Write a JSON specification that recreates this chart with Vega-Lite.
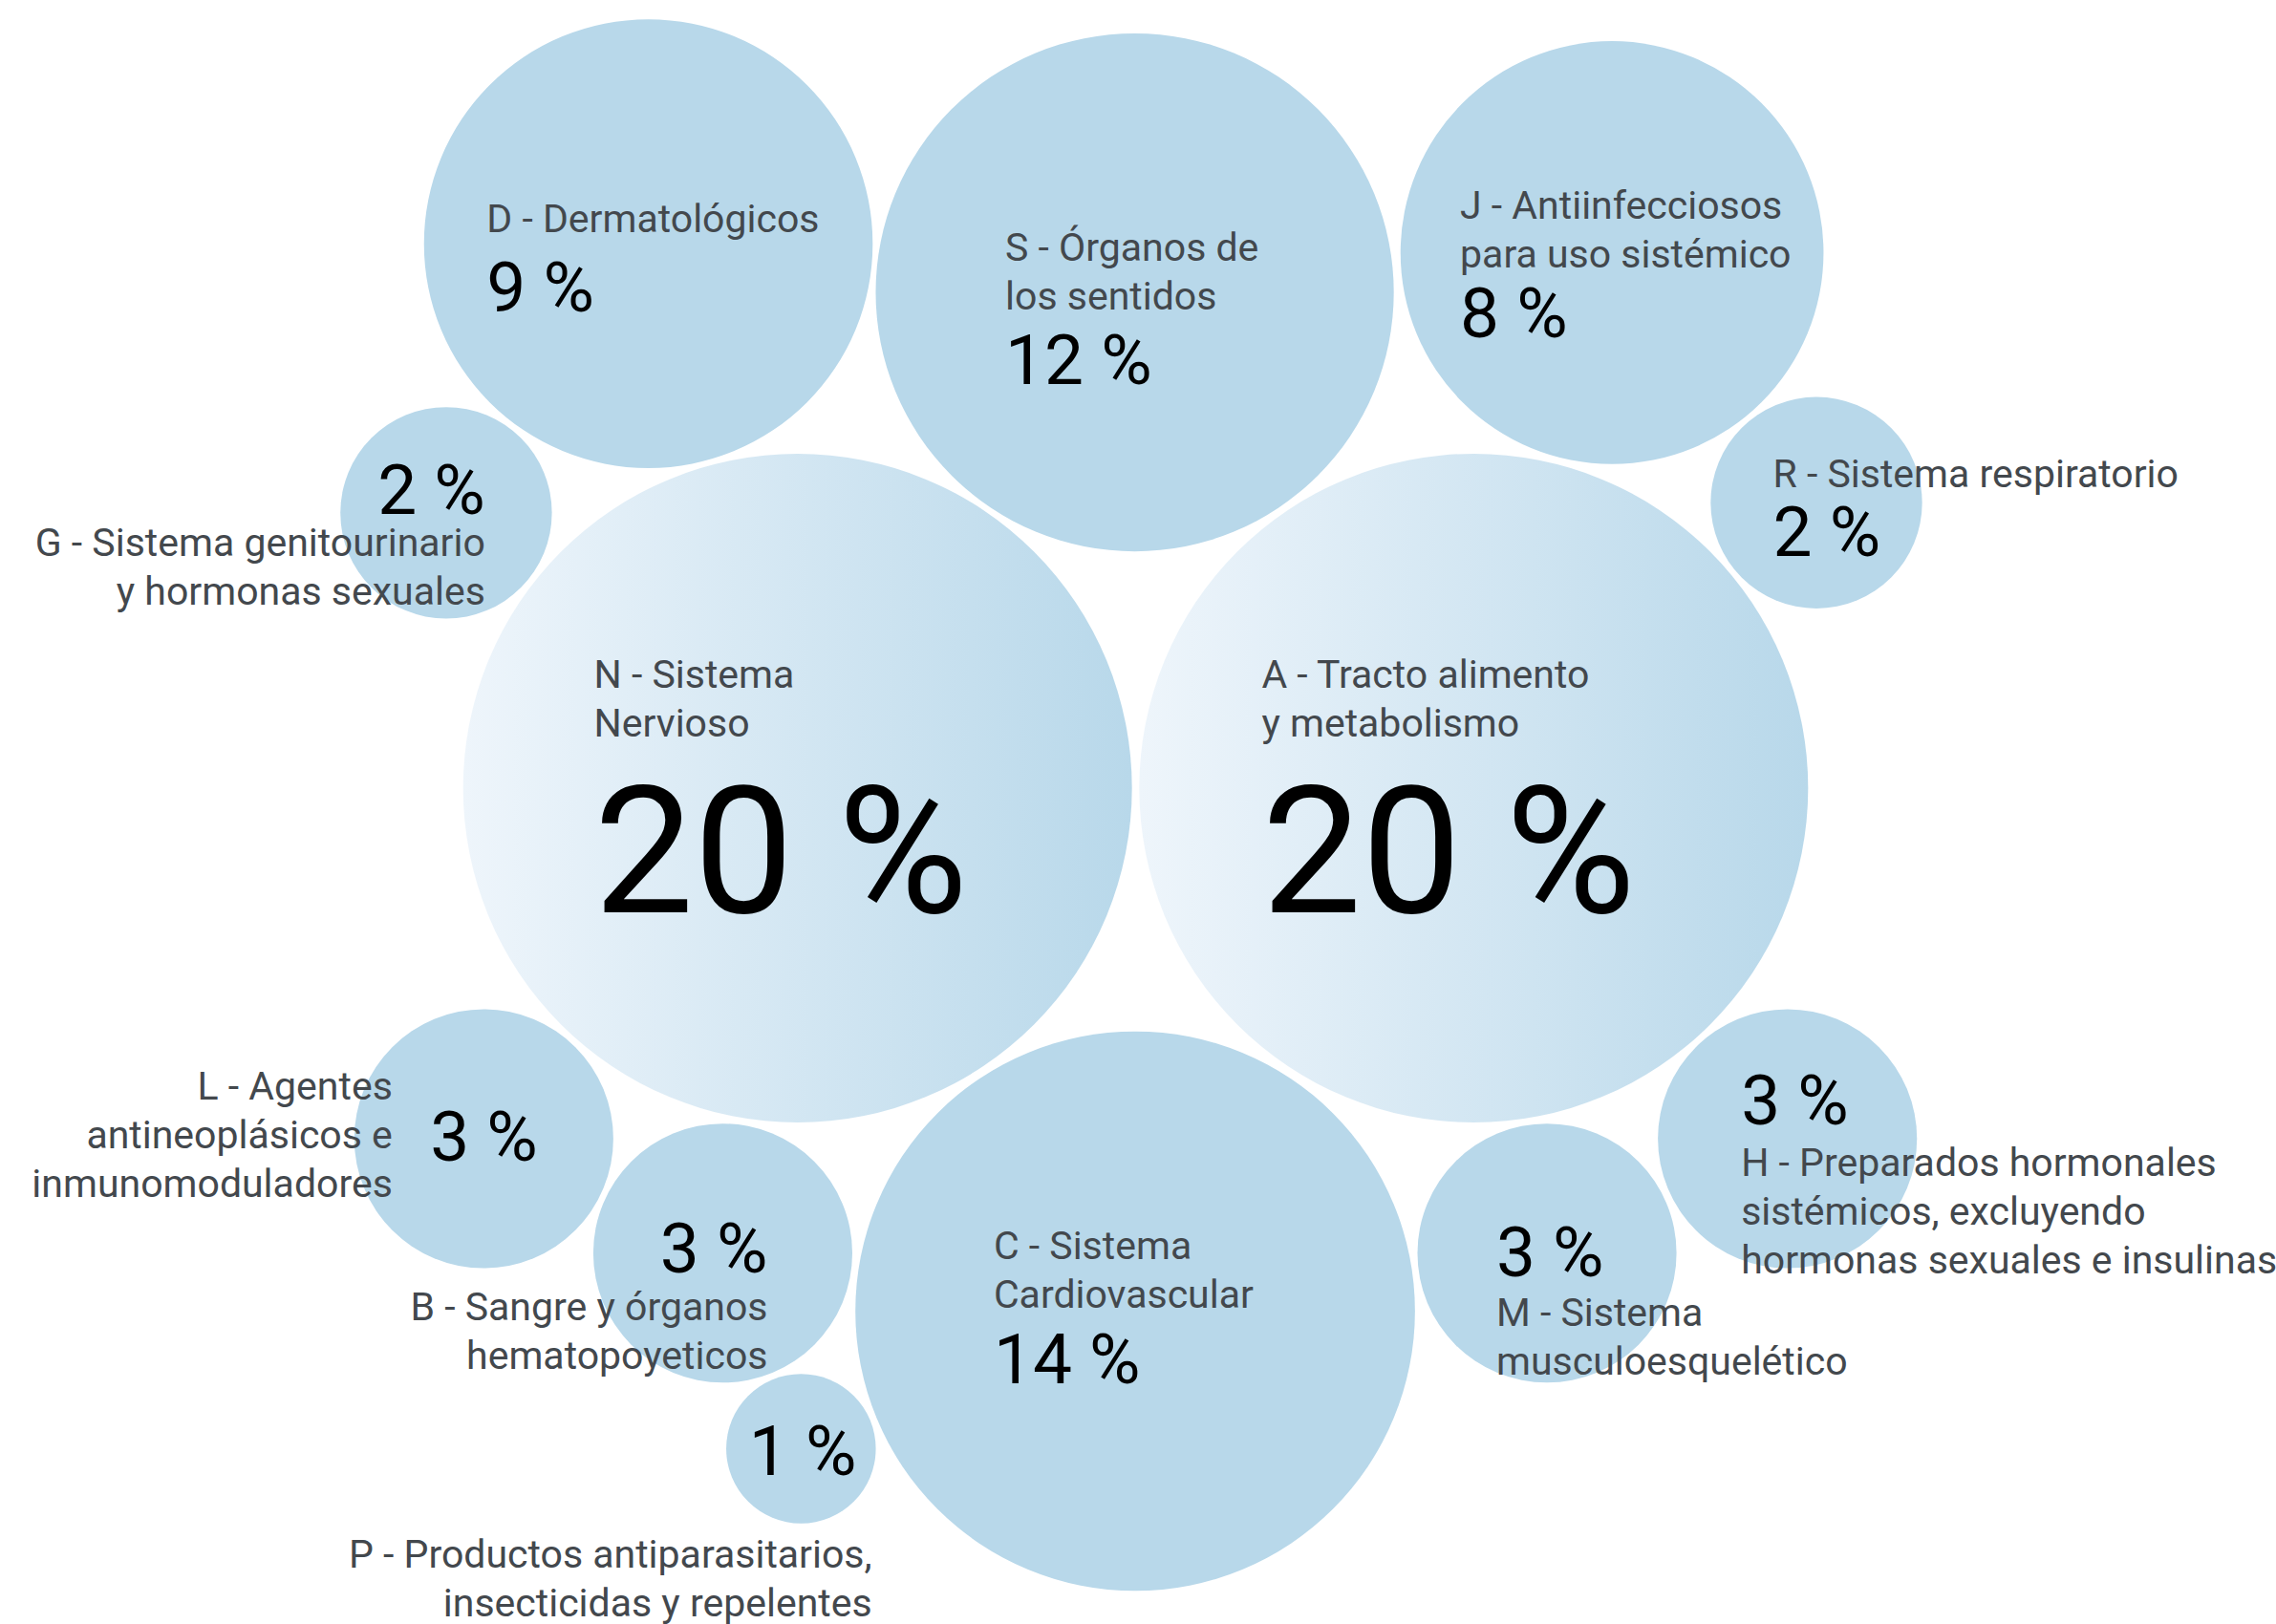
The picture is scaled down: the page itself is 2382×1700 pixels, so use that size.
{
  "$schema": "https://vega.github.io/schema/vega-lite/v6.json",
  "width": 2382,
  "height": 1700,
  "autosize": {"type": "fit", "contains": "padding"},
  "padding": 0,
  "background": "white",
  "config": {"view": {"stroke": null}, "font": "Roboto"},
  "data": {
    "values": [
      {"code": "D", "group": "std", "cx": 447.6, "cy": 168.2, "share": 9, "pct": "9 %", "lines": ["D - Dermatológicos"], "lx": 336, "ly": 160, "lside": "left", "px": 336, "py": 215, "pside": "left"},
      {"code": "S", "group": "std", "cx": 783.4, "cy": 201.8, "share": 12, "pct": "12 %", "lines": ["S - Órganos de", "los sentidos"], "lx": 694, "ly": 180, "lside": "left", "px": 694, "py": 265, "pside": "left"},
      {"code": "J", "group": "std", "cx": 1112.9, "cy": 174.4, "share": 8, "pct": "8 %", "lines": ["J - Antiinfecciosos", "para uso sistémico"], "lx": 1008, "ly": 151, "lside": "left", "px": 1008, "py": 233, "pside": "left"},
      {"code": "R", "group": "std", "cx": 1254, "cy": 347, "share": 2, "pct": "2 %", "lines": ["R - Sistema respiratorio"], "lx": 1224, "ly": 336, "lside": "left", "px": 1224, "py": 384, "pside": "left"},
      {"code": "G", "group": "std", "cx": 308, "cy": 354, "share": 2, "pct": "2 %", "lines": ["G - Sistema genitourinario", "y  hormonas sexuales"], "lx": 335, "ly": 384, "lside": "right", "px": 335, "py": 355, "pside": "right"},
      {"code": "N", "group": "big", "cx": 550.6, "cy": 544, "share": 20, "pct": "20 %", "lines": ["N - Sistema", "Nervioso"], "lx": 410, "ly": 475, "lside": "left", "px": 410, "py": 630, "pside": "left"},
      {"code": "A", "group": "big", "cx": 1017.4, "cy": 544, "share": 20, "pct": "20 %", "lines": ["A - Tracto alimento", "y metabolismo"], "lx": 871, "ly": 475, "lside": "left", "px": 871, "py": 630, "pside": "left"},
      {"code": "L", "group": "std", "cx": 334, "cy": 786, "share": 3, "pct": "3 %", "lines": ["L - Agentes", "antineoplásicos e", "inmunomoduladores"], "lx": 271, "ly": 759, "lside": "right", "px": 297, "py": 801, "pside": "left"},
      {"code": "B", "group": "std", "cx": 499, "cy": 865, "share": 3, "pct": "3 %", "lines": ["B - Sangre y órganos", "hematopoyeticos"], "lx": 530, "ly": 911, "lside": "right", "px": 530, "py": 878, "pside": "right"},
      {"code": "P", "group": "std", "cx": 553, "cy": 1000, "share": 1, "pct": "1 %", "lines": ["P - Productos antiparasitarios,", "insecticidas y repelentes"], "lx": 602, "ly": 1082, "lside": "right", "px": 517, "py": 1018, "pside": "left"},
      {"code": "C", "group": "std", "cx": 783.7, "cy": 905, "share": 14, "pct": "14 %", "lines": ["C - Sistema", "Cardiovascular"], "lx": 686, "ly": 869, "lside": "left", "px": 686, "py": 955, "pside": "left"},
      {"code": "M", "group": "std", "cx": 1068, "cy": 865, "share": 3, "pct": "3 %", "lines": ["M - Sistema", "musculoesquelético"], "lx": 1033, "ly": 915, "lside": "left", "px": 1033, "py": 881, "pside": "left"},
      {"code": "H", "group": "std", "cx": 1234, "cy": 786, "share": 3, "pct": "3 %", "lines": ["H - Preparados hormonales", "sistémicos, excluyendo", "hormonas sexuales e insulinas"], "lx": 1202, "ly": 812, "lside": "left", "px": 1202, "py": 776, "pside": "left"}
    ]
  },
  "layer": [
    {
      "transform": [{"filter": "datum.group === 'std'"}],
      "mark": {"type": "circle", "color": "#b8d8ea", "opacity": 1},
      "encoding": {
        "x": {"field": "cx", "type": "quantitative", "scale": {"domain": [0, 1568], "nice": false, "zero": false}, "axis": null},
        "y": {"field": "cy", "type": "quantitative", "scale": {"domain": [0, 1119], "nice": false, "zero": false, "reverse": true}, "axis": null},
        "size": {"field": "share", "type": "quantitative", "scale": {"type": "linear", "domain": [0, 20], "range": [0, 490000], "zero": true}, "legend": null}
      }
    },
    {
      "transform": [{"filter": "datum.group === 'big'"}],
      "mark": {"type": "circle", "opacity": 1, "color": {"gradient": "linear", "x1": 0, "y1": 0, "x2": 1, "y2": 0, "stops": [{"offset": 0, "color": "#eef5fb"}, {"offset": 1, "color": "#b8d8ea"}]}},
      "encoding": {
        "x": {"field": "cx", "type": "quantitative"},
        "y": {"field": "cy", "type": "quantitative"},
        "size": {"field": "share", "type": "quantitative"}
      }
    },
    {
      "transform": [{"filter": "datum.lside === 'left'"}],
      "mark": {"type": "text", "align": "left", "baseline": "alphabetic", "font": "Roboto", "fontSize": 41, "lineHeight": 51, "color": "#43484d"},
      "encoding": {
        "x": {"field": "lx", "type": "quantitative"},
        "y": {"field": "ly", "type": "quantitative"},
        "text": {"field": "lines"}
      }
    },
    {
      "transform": [{"filter": "datum.lside === 'right'"}],
      "mark": {"type": "text", "align": "right", "baseline": "alphabetic", "font": "Roboto", "fontSize": 41, "lineHeight": 51, "color": "#43484d"},
      "encoding": {
        "x": {"field": "lx", "type": "quantitative"},
        "y": {"field": "ly", "type": "quantitative"},
        "text": {"field": "lines"}
      }
    },
    {
      "transform": [{"filter": "datum.pside === 'left' && datum.group === 'std'"}],
      "mark": {"type": "text", "align": "left", "baseline": "alphabetic", "font": "Roboto", "fontSize": 73, "color": "#000000"},
      "encoding": {
        "x": {"field": "px", "type": "quantitative"},
        "y": {"field": "py", "type": "quantitative"},
        "text": {"field": "pct"}
      }
    },
    {
      "transform": [{"filter": "datum.pside === 'right' && datum.group === 'std'"}],
      "mark": {"type": "text", "align": "right", "baseline": "alphabetic", "font": "Roboto", "fontSize": 73, "color": "#000000"},
      "encoding": {
        "x": {"field": "px", "type": "quantitative"},
        "y": {"field": "py", "type": "quantitative"},
        "text": {"field": "pct"}
      }
    },
    {
      "transform": [{"filter": "datum.group === 'big'"}],
      "mark": {"type": "text", "align": "left", "baseline": "alphabetic", "font": "Roboto", "fontSize": 186, "color": "#000000"},
      "encoding": {
        "x": {"field": "px", "type": "quantitative"},
        "y": {"field": "py", "type": "quantitative"},
        "text": {"field": "pct"}
      }
    }
  ]
}
